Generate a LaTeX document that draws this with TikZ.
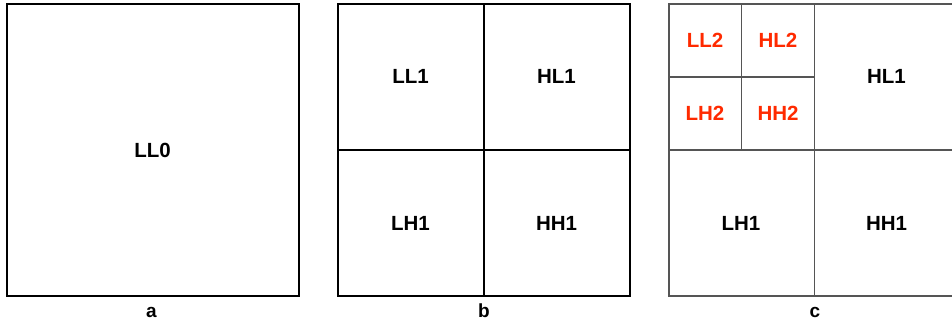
\documentclass[tikz,border=0pt]{standalone}
\usepackage{fontspec}
\setmainfont{Liberation Sans}
\definecolor{lbred}{HTML}{FF2A00}
\definecolor{gridgray}{HTML}{555555}
\begin{document}
\begin{tikzpicture}[x=1pt,y=-1pt,
  lbl/.style={font=\fontsize{20.5}{22}\selectfont\bfseries, anchor=base, inner sep=0pt},
  redlbl/.style={lbl, text=lbred},
  panelcap/.style={font=\fontsize{19}{21}\selectfont\bfseries, anchor=base, inner sep=0pt},
  blk/.style={draw=black, line width=1.2pt},
  gry/.style={draw=gridgray, line width=1.2pt}]
\useasboundingbox (0,0) rectangle (952,323);
% panel a
\draw[blk] (7,4) rectangle (299,296);
\node[lbl] (ll0) at (152.5,157.6) {LL0};
\node[panelcap] (ca) at (151.5,317.5) {a};
% panel b
\draw[blk] (338,4) rectangle (630,296);
\draw[blk] (484,4) -- (484,296);
\draw[blk] (338,150) -- (630,150);
\node[lbl] (bll1) at (410.5,84) {LL1};
\node[lbl] (bhl1) at (556.5,84) {HL1};
\node[lbl] (blh1) at (410.5,230) {LH1};
\node[lbl] (bhh1) at (556.5,230) {HH1};
\node[panelcap] (cb) at (484,317.5) {b};
% panel c
\draw[gry] (669,4) rectangle (961,296);
\draw[gry] (814.5,4) -- (814.5,296);
\draw[gry] (669,150) -- (961,150);
\draw[gry] (741.7,4) -- (741.7,150);
\draw[gry] (669,77) -- (814.5,77);
\node[redlbl] (cll2) at (705,47.6) {LL2};
\node[redlbl] (chl2) at (778,47.6) {HL2};
\node[redlbl] (clh2) at (705,120.6) {LH2};
\node[redlbl] (chh2) at (778,120.6) {HH2};
\node[lbl] (chl1) at (886.5,84) {HL1};
\node[lbl] (clh1) at (741,230) {LH1};
\node[lbl] (chh1) at (886.5,230) {HH1};
\node[panelcap] (cc) at (815,317.5) {c};
\end{tikzpicture}
\end{document}
